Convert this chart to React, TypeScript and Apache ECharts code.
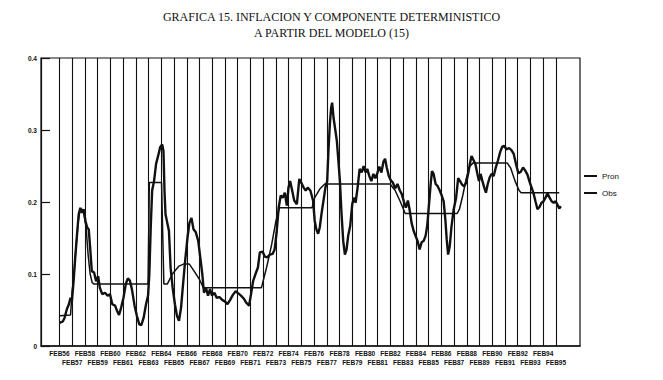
import React, { useEffect, useRef } from "react";
import * as echarts from "echarts";

const titleText = "GRAFICA 15. INFLACION Y COMPONENTE DETERMINISTICO\nA PARTIR DEL MODELO (15)";

// every February gets a vertical rule; labels alternate between two rows
const yearTicks = [
  1956, 1957, 1958, 1959, 1960, 1961, 1962, 1963, 1964, 1965,
  1966, 1967, 1968, 1969, 1970, 1971, 1972, 1973, 1974, 1975,
  1976, 1977, 1978, 1979, 1980, 1981, 1982, 1983, 1984, 1985,
  1986, 1987, 1988, 1989, 1990, 1991, 1992, 1993, 1994, 1995,
];
const upperRowYears = [1956, 1958, 1960, 1962, 1964, 1966, 1968, 1970, 1972, 1974, 1976, 1978, 1980, 1982, 1984, 1986, 1988, 1990, 1992, 1994];
const lowerRowYears = [1957, 1959, 1961, 1963, 1965, 1967, 1969, 1971, 1973, 1975, 1977, 1979, 1981, 1983, 1985, 1987, 1989, 1991, 1993, 1995];

const yTickLabels = ["0", "0.1", "0.2", "0.3", "0.4"];

// "Pron": thick jagged series  [year (FEB = integer), value]
const pron1956to1965: [number, number][] = [
  [1956.0, 0.032], [1956.26, 0.034], [1956.4, 0.039], [1956.58, 0.051], [1956.74, 0.058],
  [1956.87, 0.067], [1956.98, 0.063], [1957.11, 0.09], [1957.24, 0.123], [1957.38, 0.155],
  [1957.51, 0.183], [1957.64, 0.192], [1957.77, 0.185], [1957.9, 0.19], [1958.04, 0.174],
  [1958.17, 0.165], [1958.3, 0.162], [1958.41, 0.137], [1958.54, 0.104], [1958.72, 0.102],
  [1958.88, 0.09], [1959.04, 0.097], [1959.17, 0.081], [1959.36, 0.072], [1959.57, 0.074],
  [1959.78, 0.07], [1959.97, 0.072], [1960.15, 0.058], [1960.37, 0.056], [1960.52, 0.049],
  [1960.68, 0.043], [1960.84, 0.053], [1961.03, 0.067], [1961.21, 0.086], [1961.37, 0.094],
  [1961.53, 0.091], [1961.69, 0.079], [1961.9, 0.056], [1962.08, 0.042], [1962.27, 0.03],
  [1962.43, 0.029], [1962.61, 0.039], [1962.8, 0.058], [1962.96, 0.07], [1963.06, 0.1],
  [1963.17, 0.165], [1963.28, 0.216], [1963.43, 0.229], [1963.59, 0.253], [1963.75, 0.264],
  [1963.91, 0.276], [1964.07, 0.28], [1964.17, 0.271], [1964.25, 0.216], [1964.33, 0.183],
  [1964.47, 0.171], [1964.6, 0.16], [1964.73, 0.109], [1964.89, 0.081], [1965.07, 0.058],
  [1965.23, 0.042], [1965.39, 0.035], [1965.55, 0.053], [1965.71, 0.086], [1965.87, 0.118],
];

const pron1966to1975: [number, number][] = [
  [1966.06, 0.151], [1966.21, 0.171], [1966.37, 0.178], [1966.53, 0.162], [1966.71, 0.158],
  [1966.9, 0.146], [1967.06, 0.123], [1967.22, 0.1], [1967.35, 0.074], [1967.51, 0.081],
  [1967.67, 0.07], [1967.83, 0.079], [1967.98, 0.07], [1968.17, 0.074], [1968.35, 0.067],
  [1968.57, 0.068], [1968.78, 0.064], [1968.99, 0.062], [1969.2, 0.058], [1969.41, 0.064],
  [1969.62, 0.071], [1969.84, 0.076], [1970.05, 0.073], [1970.26, 0.07], [1970.47, 0.066],
  [1970.68, 0.06], [1970.89, 0.056], [1971.05, 0.072], [1971.21, 0.09], [1971.4, 0.1],
  [1971.59, 0.109], [1971.74, 0.13], [1971.96, 0.131], [1972.14, 0.124], [1972.32, 0.123],
  [1972.53, 0.127], [1972.75, 0.128], [1972.9, 0.134], [1973.06, 0.158], [1973.22, 0.192],
  [1973.38, 0.209], [1973.54, 0.206], [1973.7, 0.213], [1973.86, 0.195], [1973.99, 0.22],
  [1974.12, 0.229], [1974.28, 0.216], [1974.44, 0.202], [1974.65, 0.197], [1974.84, 0.232],
  [1974.99, 0.227], [1975.18, 0.22], [1975.34, 0.216], [1975.5, 0.22], [1975.71, 0.216],
  [1975.92, 0.202],
];

const pron1976to1985: [number, number][] = [
  [1976.05, 0.174], [1976.18, 0.162], [1976.32, 0.156], [1976.45, 0.165], [1976.58, 0.183],
  [1976.74, 0.202], [1976.89, 0.22], [1977.03, 0.229], [1977.13, 0.271], [1977.24, 0.308],
  [1977.34, 0.331], [1977.42, 0.338], [1977.53, 0.317], [1977.66, 0.301], [1977.79, 0.285],
  [1977.89, 0.262], [1978.03, 0.229], [1978.16, 0.183], [1978.29, 0.146], [1978.42, 0.127],
  [1978.55, 0.134], [1978.68, 0.153], [1978.84, 0.167], [1979.0, 0.197], [1979.13, 0.206],
  [1979.26, 0.199], [1979.42, 0.22], [1979.58, 0.246], [1979.74, 0.241], [1979.89, 0.25],
  [1980.05, 0.241], [1980.18, 0.246], [1980.34, 0.236], [1980.5, 0.229], [1980.66, 0.239],
  [1980.82, 0.233], [1980.97, 0.24], [1981.13, 0.249], [1981.29, 0.241], [1981.45, 0.256],
  [1981.58, 0.26], [1981.71, 0.248], [1981.87, 0.236], [1982.03, 0.23], [1982.18, 0.227],
  [1982.37, 0.219], [1982.55, 0.225], [1982.74, 0.216], [1982.89, 0.211], [1983.05, 0.201],
  [1983.21, 0.192], [1983.37, 0.202], [1983.5, 0.19], [1983.66, 0.171], [1983.82, 0.16],
  [1983.97, 0.153], [1984.13, 0.146], [1984.29, 0.134], [1984.45, 0.144], [1984.61, 0.146],
  [1984.76, 0.153], [1984.89, 0.167], [1985.03, 0.197], [1985.16, 0.225], [1985.26, 0.243],
  [1985.39, 0.239], [1985.55, 0.225], [1985.71, 0.222], [1985.87, 0.216],
];

const pron1986to1995: [number, number][] = [
  [1986.03, 0.209], [1986.18, 0.201], [1986.32, 0.174], [1986.42, 0.148], [1986.53, 0.127],
  [1986.66, 0.139], [1986.79, 0.165], [1986.97, 0.19], [1987.16, 0.206], [1987.32, 0.233],
  [1987.47, 0.229], [1987.63, 0.224], [1987.79, 0.222], [1987.95, 0.227], [1988.11, 0.24],
  [1988.24, 0.253], [1988.37, 0.264], [1988.53, 0.258], [1988.68, 0.252], [1988.82, 0.24],
  [1988.95, 0.229], [1989.08, 0.239], [1989.21, 0.23], [1989.37, 0.22], [1989.5, 0.213],
  [1989.63, 0.224], [1989.79, 0.234], [1989.95, 0.239], [1990.11, 0.236], [1990.26, 0.247],
  [1990.45, 0.258], [1990.63, 0.27], [1990.79, 0.277], [1990.95, 0.278], [1991.11, 0.273],
  [1991.32, 0.275], [1991.5, 0.272], [1991.68, 0.267], [1991.87, 0.252], [1992.05, 0.24],
  [1992.24, 0.242], [1992.42, 0.248], [1992.58, 0.244], [1992.76, 0.238], [1992.95, 0.227],
  [1993.11, 0.219], [1993.24, 0.212], [1993.39, 0.201], [1993.55, 0.19], [1993.71, 0.193],
  [1993.87, 0.199], [1994.03, 0.201], [1994.18, 0.206], [1994.34, 0.212], [1994.5, 0.206],
  [1994.66, 0.201], [1994.82, 0.199], [1994.97, 0.201], [1995.13, 0.196], [1995.26, 0.191],
  [1995.39, 0.194],
];

// "Obs": thin step / smooth series
const obsPoints: [number, number][] = [
  [1956.0, 0.042], [1956.87, 0.043], [1956.98, 0.072], [1957.14, 0.1], [1957.3, 0.137],
  [1957.46, 0.171], [1957.61, 0.188], [1957.77, 0.19], [1957.93, 0.183], [1958.09, 0.165],
  [1958.25, 0.127], [1958.41, 0.1], [1958.57, 0.088], [1958.72, 0.086], [1962.96, 0.086],
  [1963.06, 0.227], [1964.02, 0.227], [1964.2, 0.086], [1964.47, 0.086], [1964.87, 0.1],
  [1965.39, 0.111], [1965.79, 0.114], [1966.19, 0.114], [1966.58, 0.104], [1966.98, 0.093],
  [1967.3, 0.081], [1971.87, 0.081], [1972.27, 0.109], [1972.67, 0.141], [1973.01, 0.174],
  [1973.28, 0.192], [1975.84, 0.192], [1976.05, 0.206], [1976.45, 0.218], [1976.84, 0.225],
  [1981.97, 0.225], [1982.37, 0.216], [1982.76, 0.201], [1983.16, 0.184], [1987.24, 0.184],
  [1987.42, 0.19], [1987.68, 0.209], [1987.95, 0.232], [1988.21, 0.249], [1988.47, 0.254],
  [1991.18, 0.254], [1991.45, 0.247], [1991.79, 0.229], [1992.11, 0.216], [1992.26, 0.213],
  [1995.26, 0.213],
];

const INK = "#111";
const X_MIN = 1954.55;
const X_MAX = 1996.89;

const labelStyle = {
  fontFamily: "Liberation Sans",
  fontSize: 6.5,
  fontWeight: "bold",
  color: INK,
};

const febLabel = (v: number) => "FEB" + String(Math.round(v)).slice(2);

export default function App() {
  const ref = useRef<HTMLDivElement>(null);
  useEffect(() => {
    if (!ref.current) return;
    const chart = echarts.init(ref.current, undefined, { renderer: "svg" });
    const pron = [...pron1956to1965, ...pron1966to1975, ...pron1976to1985, ...pron1986to1995];
    const option = {
      animation: false,
      backgroundColor: "#fff",
      title: {
        text: titleText,
        left: "center",
        top: 4,
        textStyle: {
          fontFamily: "Liberation Serif",
          fontSize: 12,
          fontWeight: "normal",
          color: INK,
          lineHeight: 16,
        },
      },
      legend: {
        orient: "vertical",
        left: 578,
        top: 167,
        itemWidth: 13,
        itemHeight: 8,
        itemGap: 9,
        data: ["Pron", "Obs"],
        itemStyle: { opacity: 0 },
        textStyle: { fontFamily: "Liberation Sans", fontSize: 8, color: INK, padding: [0, 0, 6, 0] },
      },
      grid: {
        left: 41,
        right: 83,
        top: 58,
        bottom: 34,
        show: true,
        borderColor: INK,
        borderWidth: 1.2,
        backgroundColor: "transparent",
      },
      xAxis: [
        {
          type: "value",
          min: X_MIN,
          max: X_MAX,
          position: "bottom",
          axisLine: { show: true, onZero: false, lineStyle: { color: INK, width: 1.5 } },
          axisTick: { show: false },
          splitLine: { show: false },
          axisLabel: {
            customValues: upperRowYears,
            showMinLabel: true,
            showMaxLabel: true,
            formatter: febLabel,
            margin: 4,
            ...labelStyle,
          },
        },
        {
          type: "value",
          min: X_MIN,
          max: X_MAX,
          position: "bottom",
          axisLine: { show: false },
          axisTick: { show: false },
          splitLine: { show: false },
          axisLabel: {
            customValues: lowerRowYears,
            showMinLabel: true,
            showMaxLabel: true,
            formatter: febLabel,
            margin: 13,
            ...labelStyle,
          },
        },
      ],
      yAxis: {
        type: "value",
        min: 0,
        max: 0.4,
        interval: 0.1,
        axisLine: { show: true, lineStyle: { color: INK, width: 1.2 } },
        axisTick: { show: true, inside: true, length: 9, lineStyle: { color: INK, width: 1.2 } },
        splitLine: { show: false },
        axisLabel: {
          formatter: (v: number) => yTickLabels[Math.round(v * 10)] ?? "",
          margin: 4,
          ...labelStyle,
        },
      },
      series: [
        {
          name: "Pron",
          type: "line",
          xAxisIndex: 0,
          data: pron,
          symbol: "none",
          showSymbol: false,
          lineStyle: { color: INK, width: 2.4 },
          itemStyle: { color: INK },
          markLine: {
            silent: true,
            symbol: ["none", "none"],
            label: { show: false },
            lineStyle: { color: INK, width: 1.1, type: "solid" },
            data: yearTicks.map((y) => ({ xAxis: y })),
          },
          z: 3,
        },
        {
          name: "Obs",
          type: "line",
          xAxisIndex: 0,
          data: obsPoints,
          symbol: "none",
          showSymbol: false,
          lineStyle: { color: INK, width: 1.5 },
          itemStyle: { color: INK },
          z: 2,
        },
      ],
    };
    chart.setOption(option as any);
    return () => chart.dispose();
  }, []);
  return (
    <div
      ref={ref}
      style={{ position: "absolute", left: 0, top: 0, width: 663, height: 380, background: "#fff" }}
    />
  );
}
